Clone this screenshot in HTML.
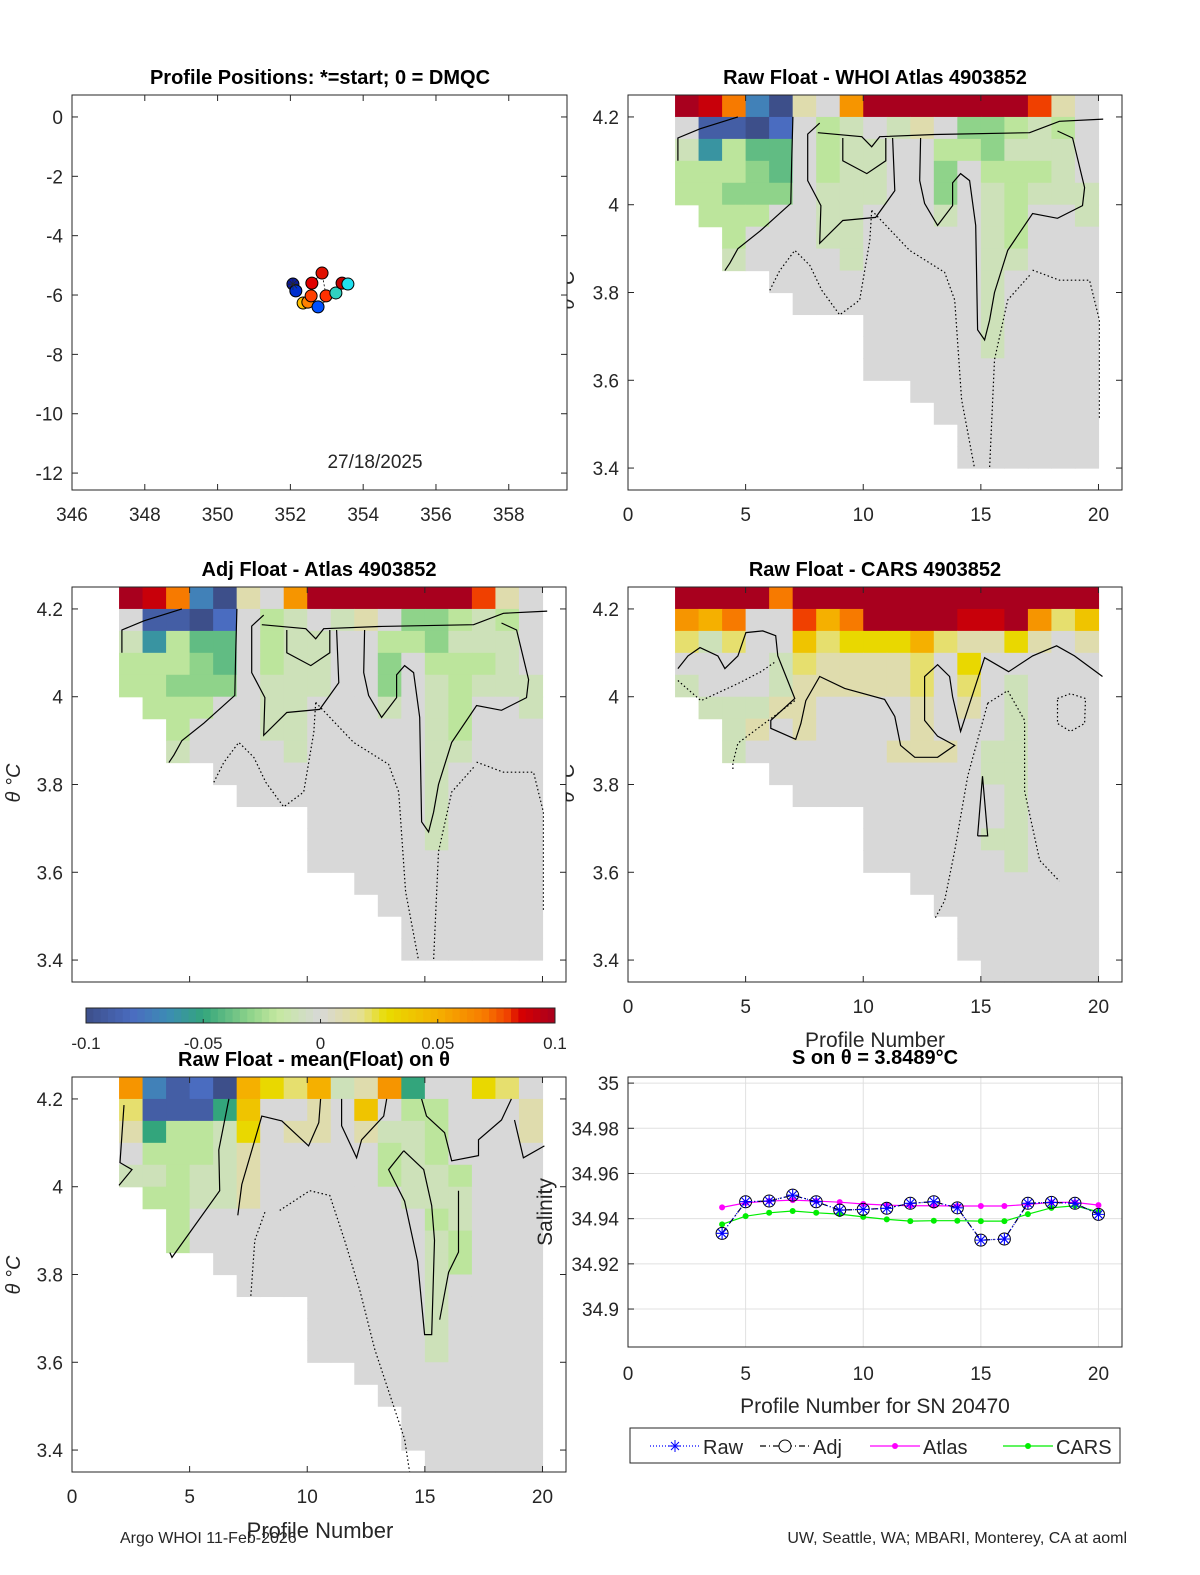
<!DOCTYPE html>
<html><head><meta charset="utf-8">
<style>
body{margin:0;background:#fff}
svg{display:block}
text{font-family:"Liberation Sans","DejaVu Sans",sans-serif;fill:#262626}
.t{font-weight:bold;fill:#000;font-size:20px}
.tk{font-size:19px}
</style></head>
<body>
<svg id="fig" width="1200" height="1575" viewBox="0 0 1200 1575" xmlns="http://www.w3.org/2000/svg">
<rect width="1200" height="1575" fill="#fff"/>
</svg>
<script>
// ---------- data ----------
const posLon = [352.07,352.15,352.35,352.48,352.57,352.59,352.87,352.98,352.76,353.25,353.42,353.58];
const posLat = [-5.63,-5.86,-6.27,-6.24,-6.03,-5.60,-5.26,-6.03,-6.40,-5.93,-5.60,-5.63];
const posColors = ['#0a1aa0','#0030d0','#ffc000','#ff8000','#ff4000','#e00000','#e01000','#ff3000','#0050ff','#30d0c0','#c00000','#20e0f0'];
const lonTicks = [346,348,350,352,354,356,358];
const latTicks = [0,-2,-4,-6,-8,-10,-12];
const profTicks = [0,5,10,15,20];
const thetaTicks = [4.2,4,3.8,3.6,3.4];
const rowsWHOI = [
"utrdalkquuuuuuuslk","kbbackijkjlkhhijik","jeiggkijjkkiihjjjk","iiihgkijjkkhkiiijk","iihhhkjjjkkhkjijjj",
".iiikkjjkkkjkjikkj","..ikkkjjkkkkkjikkk","..jkkkkjkkkkkjjkkk","....kkkkkkkkkjkkkk",".....kkkkkkkkjkkkk",
"........kkkkkjkkkk","........kkkkkjkkkk","........kkkkkkkkkk","..........kkkkkkkk","...........kkkkkkk",
"............kkkkkk","............kkkkkk",".................."];
const rowsAtlas = rowsWHOI.slice();
const rowsCARS = [
"uuuuruuuuuuuuuuuuu","qprkkspruuuuttuqmo","mjmkkomnnnpmllnlkl","kkkkjmllllmknkkkkk","jkkkjlllllmkmkjkkk",
".jjjllkkkklklkjkkk","..jlklkkkklkkkjkkk","..jkkkkkklllkjjkkk","....kkkkkkkkkjjkkk",".....kkkkkkkkkjkkk",
"........kkkkkkjkkk","........kkkkkjjkkk","........kkkkkkjkkk","..........kkkkkkkk","...........kkkkkkk",
"............kkkkkk","............kkkkkk",".............kkkkk"];
const rowsMean = [
"qdbcapnmpjlqfkknmk","mbbbfokklkokiikkkl","lfiijnkllkljjikkkl","kiiijlkkkkkijikkkk","jjijjlkkkkkijjikkk",
".iijjlkkkkkkjjjkkk","..ikkkkkkkkkkijkkk","..ikkkkkkkkkkjikkk","....kkkkkkkkkjikkk",".....kkkkkkkkjkkkk",
"........kkkkkjkkkk","........kkkkkjkkkk","........kkkkkjkkkk","..........kkkkkkkk","...........kkkkkkk",
"............kkkkkk","............kkkkkk",".............kkkkk"];
const cWHOI = [
 {d:0,p:[[7.01,4.2],[6.96,4.10],[6.92,4.003],[5.61,3.94],[4.67,3.90],[4.33,3.867],[4.12,3.85]]},
 {d:0,p:[[2.12,4.10],[2.12,4.152],[3.06,4.173],[4.67,4.2]]},
 {d:0,p:[[8.07,4.164],[9.94,4.155],[10.36,4.132],[10.70,4.155],[13.04,4.16],[17.07,4.164],[18.34,4.19],[20.2,4.195]]},
 {d:0,p:[[8.15,4.186],[7.64,4.161],[7.64,4.055],[8.20,3.998],[8.15,3.912],[9.13,3.964],[10.53,3.971],[11.34,4.032],[11.25,4.152]]},
 {d:0,p:[[9.13,4.152],[9.13,4.10],[10.15,4.071],[10.96,4.10],[10.96,4.152]]},
 {d:0,p:[[12.44,4.152],[12.40,4.055],[12.61,4.003],[13.16,3.953],[13.80,3.998],[13.80,4.05],[14.14,4.071],[14.52,4.055],[14.78,3.953],[14.86,3.715],[15.16,3.692],[15.37,3.737],[15.58,3.80],[16.14,3.896],[17.20,3.98],[18.26,3.969],[19.32,3.998],[19.41,4.039],[18.90,4.152],[18.26,4.168]]},
 {d:1,p:[[6.03,3.805],[6.45,3.85],[7.09,3.896],[7.73,3.862],[8.24,3.805],[9.0,3.749],[9.85,3.783],[10.28,3.919],[10.36,3.987]]},
 {d:1,p:[[10.36,3.987],[11.97,3.896],[13.46,3.846],[13.89,3.783],[14.18,3.556],[14.73,3.4]]},
 {d:1,p:[[17.07,3.839],[16.14,3.783],[15.58,3.647],[15.37,3.4]]},
 {d:1,p:[[17.2,3.851],[18.34,3.828],[19.62,3.828],[20.04,3.737],[20.04,3.51]]}
];
const cCARS = [
 {d:0,p:[[2.12,4.064],[2.55,4.093],[3.06,4.112],[3.82,4.093],[4.12,4.064],[4.67,4.093],[5.01,4.146],[5.73,4.15],[6.28,4.139],[6.37,4.093],[7.09,3.996],[6.07,3.946],[6.07,3.928],[7.13,3.903],[7.35,3.939],[7.56,3.991],[8.15,4.046],[9.21,4.019],[10.91,3.994],[11.34,3.955],[11.59,3.889],[12.19,3.862],[13.16,3.862],[13.89,3.889],[13.16,3.91],[12.61,3.946],[12.61,4.046],[13.16,4.073],[13.67,4.046],[13.80,4.0],[14.14,3.921],[15.16,4.089],[16.18,4.057],[17.2,4.093],[18.22,4.116],[18.98,4.093],[20.17,4.046]]},
 {d:0,p:[[14.86,3.683],[15.07,3.819],[15.29,3.683],[14.86,3.683]]},
 {d:1,p:[[2.12,4.037],[3.10,3.991],[4.67,4.03],[5.65,4.057],[6.28,4.08]]},
 {d:1,p:[[7.09,3.991],[4.67,3.894],[4.46,3.849],[4.46,3.835]]},
 {d:1,p:[[15.29,3.985],[16.14,4.014],[16.86,3.946],[16.86,3.785],[17.5,3.627],[18.34,3.58]]},
 {d:1,p:[[15.29,3.985],[14.44,3.819],[13.89,3.649],[13.46,3.535],[13.04,3.494]]},
 {d:1,p:[[18.26,3.996],[18.81,4.007],[19.45,3.996],[19.41,3.939],[18.81,3.921],[18.26,3.939],[18.26,3.996]]}
];
const cMean = [
 {d:0,p:[[2.21,4.186],[2.04,4.055],[2.55,4.039],[2.0,4.003]]},
 {d:0,p:[[6.67,4.2],[6.24,4.084],[6.28,3.991],[4.25,3.839],[4.16,3.85]]},
 {d:0,p:[[7.05,3.935],[7.22,4.005],[8.07,4.161],[8.92,4.15],[10.06,4.093],[10.49,4.146],[10.57,4.2]]},
 {d:0,p:[[11.46,4.2],[11.46,4.139],[12.10,4.066],[12.31,4.107],[13.25,4.161],[13.38,4.2]]},
 {d:0,p:[[14.86,4.2],[15.07,4.161],[15.84,4.123],[16.14,4.059],[17.28,4.071],[17.28,4.107],[18.26,4.152],[18.68,4.2]]},
 {d:0,p:[[14.1,4.082],[14.95,4.039],[15.29,3.957],[15.41,3.878],[15.29,3.663],[14.99,3.663],[14.69,3.83],[14.14,3.967],[13.46,4.039],[14.1,4.082]]},
 {d:0,p:[[16.43,3.991],[16.43,3.851],[16.01,3.805],[15.63,3.697]]},
 {d:0,p:[[18.81,4.152],[19.19,4.066],[20.08,4.093]]},
 {d:1,p:[[8.83,3.946],[10.11,3.991],[10.96,3.98],[11.59,3.878],[12.23,3.765],[12.87,3.629],[14.14,3.425],[14.35,3.35]]},
 {d:1,p:[[8.2,3.942],[7.77,3.878],[7.6,3.75]]}
];
const sProfiles = [4,5,6,7,8,9,10,11,12,13,14,15,16,17,18,19,20];
const sRaw = [34.9335,34.9475,34.9478,34.9504,34.9475,34.9438,34.9441,34.9446,34.9468,34.9475,34.9448,34.9305,34.931,34.9468,34.9472,34.9468,34.9419];
const sAdj = sRaw.slice();
const sAtlas = [34.945,34.947,34.9478,34.9482,34.9478,34.9473,34.9465,34.946,34.9457,34.9457,34.9456,34.9456,34.9456,34.9463,34.9472,34.9472,34.946];
const sCARS = [34.9375,34.9411,34.9426,34.9434,34.9426,34.942,34.9408,34.9397,34.9389,34.9391,34.9391,34.9389,34.9389,34.942,34.9448,34.9457,34.943];
const salTicks = [35,34.98,34.96,34.94,34.92,34.9];
const cbTicks = [-0.1,-0.05,0,0.05,0.1];

const NS='http://www.w3.org/2000/svg';
const svg=document.getElementById('fig');
function mk(tag,attrs,parent){const e=document.createElementNS(NS,tag);for(const k in attrs)e.setAttribute(k,attrs[k]);(parent||svg).appendChild(e);return e;}
function txt(x,y,s,cls,anchor,parent,extra){const t=mk('text',Object.assign({x:x,y:y,'text-anchor':anchor||'middle'},extra||{}),parent);if(cls)t.setAttribute('class',cls);t.textContent=s;return t;}
const stops=[[-0.1,[61,79,138]],[-0.08,[74,108,192]],[-0.065,[60,140,180]],[-0.05,[51,165,124]],[-0.03,[143,211,138]],[-0.018,[197,232,160]],[0,[216,216,216]],[0.018,[229,224,138]],[0.028,[232,220,0]],[0.05,[245,176,0]],[0.07,[247,122,0]],[0.08,[240,64,0]],[0.085,[216,0,0]],[0.1,[168,0,30]]];
function cmap(v){if(v<=stops[0][0])return rgb(stops[0][1]);for(let i=1;i<stops.length;i++){if(v<=stops[i][0]){const a=stops[i-1],b=stops[i],f=(v-a[0])/(b[0]-a[0]);return rgb(a[1].map((c,j)=>Math.round(c+f*(b[1][j]-c))));}}return rgb(stops[stops.length-1][1]);}
function rgb(c){return 'rgb('+c.join(',')+')';}
function letterVal(ch){return (ch.charCodeAt(0)-107)/100;}

// hidden-ish y labels for right panels (drawn first, partially covered)
[[574,290],[574,783]].forEach(q=>{const l=txt(q[0],q[1],'θ °C','','middle',svg,{transform:'rotate(-90 '+q[0]+' '+q[1]+')','font-size':'20px','font-style':'italic'});
  });

function heatPanel(name,X0,Y0,rows,contours,title,showXLabels){
  const W=494,H=395,pMax=21,thTop=4.25,thBot=3.35;
  const xs=p=>X0+p*W/pMax, ys=t=>Y0+(thTop-t)*H/(thTop-thBot);
  const g=mk('g',{});
  
  
  mk('rect',{x:X0,y:Y0,width:W,height:H,fill:'#fff'},g);
  rows.forEach((row,r)=>{
    for(let c=0;c<row.length;c++){
      const ch=row[c]; if(ch==='.')continue;
      const p0=2+c, t0=thTop-0.05*r;
      const rc=mk('rect',{x:xs(p0).toFixed(2),y:ys(t0).toFixed(2),width:(xs(p0+1)-xs(p0)+0.6).toFixed(2),height:(ys(t0-0.05)-ys(t0)+0.6).toFixed(2),fill:cmap(letterVal(ch))},g);
      
      
    }
  });
  contours.forEach(cn=>{
    const pl=mk('polyline',{points:cn.p.map(q=>xs(q[0]).toFixed(1)+','+ys(q[1]).toFixed(1)).join(' '),fill:'none',stroke:'#000','stroke-width':1.2,'stroke-dasharray':cn.d?'1.5 2.5':'none'},g);
    
    
  });
  const box=mk('rect',{x:X0,y:Y0,width:W,height:H,fill:'none',stroke:'#262626','stroke-width':1},g);
  
  
  thetaTicks.forEach(t=>{
    mk('line',{x1:X0,x2:X0+6,y1:ys(t),y2:ys(t),stroke:'#262626'},g);
    mk('line',{x1:X0+W,x2:X0+W-6,y1:ys(t),y2:ys(t),stroke:'#262626'},g);
    const l=txt(X0-9,ys(t)+7,String(t),'tk','end',g);
    
    
  });
  profTicks.forEach(p=>{
    mk('line',{x1:xs(p),x2:xs(p),y1:Y0+H,y2:Y0+H-6,stroke:'#262626'},g);
    mk('line',{x1:xs(p),x2:xs(p),y1:Y0,y2:Y0+6,stroke:'#262626'},g);
    if(showXLabels){
      const l=txt(xs(p),Y0+H+31,String(p),'tk','middle',g);
      
      
    }
  });
  if(title){
    const tt=txt(X0+W/2,Y0-11,title,'t','middle',g);
    
    
  }
  return g;
}

(function(){
  const X0=72,Y0=95,W=495,H=395,lon0=346,lon1=359.6,lat0=-12.57,lat1=0.74;
  const xs=v=>X0+(v-lon0)/(lon1-lon0)*W, ys=v=>Y0+(lat1-v)/(lat1-lat0)*H;
  const g=mk('g',{});
  
  
  const b=mk('rect',{x:X0,y:Y0,width:W,height:H,fill:'#fff',stroke:'#262626'},g);
  
  
  lonTicks.forEach(v=>{mk('line',{x1:xs(v),x2:xs(v),y1:Y0+H,y2:Y0+H-6,stroke:'#262626'},g);mk('line',{x1:xs(v),x2:xs(v),y1:Y0,y2:Y0+6,stroke:'#262626'},g);
    const l=txt(xs(v),Y0+H+31,String(v),'tk','middle',g);});
  latTicks.forEach(v=>{mk('line',{x1:X0,x2:X0+6,y1:ys(v),y2:ys(v),stroke:'#262626'},g);mk('line',{x1:X0+W,x2:X0+W-6,y1:ys(v),y2:ys(v),stroke:'#262626'},g);
    const l=txt(X0-9,ys(v)+7,String(v),'tk','end',g);});
  const path=mk('polyline',{points:posLon.map((v,i)=>xs(v)+','+ys(posLat[i])).join(' '),fill:'none',stroke:'#000','stroke-width':0.8,'stroke-dasharray':'2 2'},g);
  
  
  posLon.forEach((v,i)=>{
    const c=mk('circle',{cx:xs(v),cy:ys(posLat[i]),r:6,fill:posColors[i],stroke:'#000','stroke-width':1},g);
    
    
  });
  const s=txt(xs(posLon[0]),ys(posLat[0])+6,'✳','', 'middle',g,{'font-size':'16px',fill:'#0020ff'});
  
  
  const d=txt(375,468,'27/18/2025','tk','middle',g);
  
  
  const t=txt(320,84,'Profile Positions: *=start; 0 = DMQC','t','middle',g);
  
  
})();

heatPanel('raw-whoi-panel',628,95,rowsWHOI,cWHOI,'Raw Float - WHOI Atlas  4903852',true);
heatPanel('adj-atlas-panel',72,587,rowsAtlas,cWHOI,'Adj Float - Atlas  4903852',false);
heatPanel('raw-cars-panel',628,587,rowsCARS,cCARS,'Raw Float - CARS  4903852',true);
heatPanel('raw-mean-panel',72,1077,rowsMean,cMean,'',true);

[[20,783],[20,1275]].forEach(q=>{const l=txt(q[0],q[1],'θ °C','','middle',svg,{transform:'rotate(-90 '+q[0]+' '+q[1]+')','font-size':'20px','font-style':'italic'});
  });

(function(){
  const X0=86,X1=555,Y0=1008,H=15;
  const g=mk('g',{});
  
  
  const N=64;
  for(let i=0;i<N;i++){const v=-0.1+0.2*(i+0.5)/N;mk('rect',{x:X0+(X1-X0)*i/N,y:Y0,width:(X1-X0)/N+0.5,height:H,fill:cmap(v)},g);}
  mk('rect',{x:X0,y:Y0,width:X1-X0,height:H,fill:'none',stroke:'#262626'},g);
  cbTicks.forEach(v=>{const x=X0+(v+0.1)/0.2*(X1-X0);mk('line',{x1:x,x2:x,y1:Y0+H,y2:Y0+H-4,stroke:'#262626'},g);
    const l=txt(x,1049,String(v),'','middle',g,{'font-size':'17px'});});
  const t=txt(314,1066,'Raw Float - mean(Float) on θ','t','middle',svg);
  
  
})();

(function(){
  const X0=628,Y0=1077,W=494,H=270,s0=34.8832,s1=35.0027;
  const xs=p=>X0+p*W/21, ys=v=>Y0+(s1-v)/(s1-s0)*H;
  const g=mk('g',{});
  
  
  mk('rect',{x:X0,y:Y0,width:W,height:H,fill:'#fff'},g);
  profTicks.forEach(p=>{if(p>0)mk('line',{x1:xs(p),x2:xs(p),y1:Y0,y2:Y0+H,stroke:'#e0e0e0'},g);
    const l=txt(xs(p),Y0+H+33,String(p),'tk','middle',g);});
  salTicks.forEach(v=>{mk('line',{x1:X0,x2:X0+W,y1:ys(v),y2:ys(v),stroke:'#e0e0e0'},g);mk('line',{x1:X0,x2:X0+6,y1:ys(v),y2:ys(v),stroke:'#262626'},g);
    const l=txt(X0-9,ys(v)+7,String(v),'tk','end',g);});
  mk('rect',{x:X0,y:Y0,width:W,height:H,fill:'none',stroke:'#262626'},g);
  function series(name,vals,color,dash,marker){
    const pl=mk('polyline',{points:sProfiles.map((p,i)=>xs(p)+','+ys(vals[i])).join(' '),fill:'none',stroke:color,'stroke-width':1.2,'stroke-dasharray':dash},g);
    
    
    sProfiles.forEach((p,i)=>{
      const x=xs(p),y=ys(vals[i]);
      if(marker==='dot'){const c=mk('circle',{cx:x,cy:y,r:3,fill:color},g);}
      else if(marker==='circle'){const c=mk('circle',{cx:x,cy:y,r:6,fill:'none',stroke:'#000','stroke-width':1},g);}
      else{const c=mk('path',{d:`M${x-6} ${y}H${x+6}M${x} ${y-6}V${y+6}M${x-4.2} ${y-4.2}L${x+4.2} ${y+4.2}M${x-4.2} ${y+4.2}L${x+4.2} ${y-4.2}`,stroke:color,'stroke-width':1.1},g);}
    });
  }
  series('cars',sCARS,'#00ee00','none','dot');
  series('atlas',sAtlas,'#ff00ff','none','dot');
  series('adj',sAdj,'#000','6 3 1 3','circle');
  series('raw',sRaw,'#0000ff','1 2','star');
  const t=txt(875,1064,'S on θ = 3.8489°C','t','middle',svg);
  
  const yl=txt(552,1212,'Salinity','','middle',svg,{transform:'rotate(-90 552 1212)','font-size':'21px'});
  
  const xl=txt(875,1413,'Profile Number for SN 20470','','middle',svg,{'font-size':'21px'});
  
  const lg=mk('g',{});
  
  
  mk('rect',{x:630,y:1428,width:490,height:35,fill:'#fff',stroke:'#262626'},lg);
  const ents=[['Raw','#0000ff','1 2',650],['Adj','#000','6 3 1 3',760],['Atlas','#ff00ff','none',870],['CARS','#00ee00','none',1003]];
  ents.forEach(e=>{
    const eg=mk('g',{},lg);
    
    
    mk('line',{x1:e[3],x2:e[3]+50,y1:1446,y2:1446,stroke:e[1],'stroke-width':1.2,'stroke-dasharray':e[2]},eg);
    const cx=e[3]+25;
    if(e[0]==='Raw')mk('path',{d:`M${cx-6} 1446H${cx+6}M${cx} 1440V1452M${cx-4} 1442L${cx+4} 1450M${cx-4} 1450L${cx+4} 1442`,stroke:'#0000ff'},eg);
    else if(e[0]==='Adj')mk('circle',{cx:cx,cy:1446,r:6,fill:'#fff',stroke:'#000'},eg);
    else mk('circle',{cx:cx,cy:1446,r:3,fill:e[1]},eg);
    txt(e[3]+53,1454,e[0],'','start',eg,{'font-size':'20px'});
  });
})();

[[875,1047,'Profile Number','21px'],[320,1538,'Profile Number','22px']].forEach(q=>{const l=txt(q[0],q[1],q[2],'','middle',svg,{'font-size':q[3]});});
const f1=txt(120,1543,'Argo WHOI 11-Feb-2026','','start',svg,{'font-size':'16px',fill:'#000'});

const f2=txt(1127,1543,'UW, Seattle, WA; MBARI, Monterey, CA at aoml','','end',svg,{'font-size':'16px',fill:'#000'});

</script>
</body></html>
